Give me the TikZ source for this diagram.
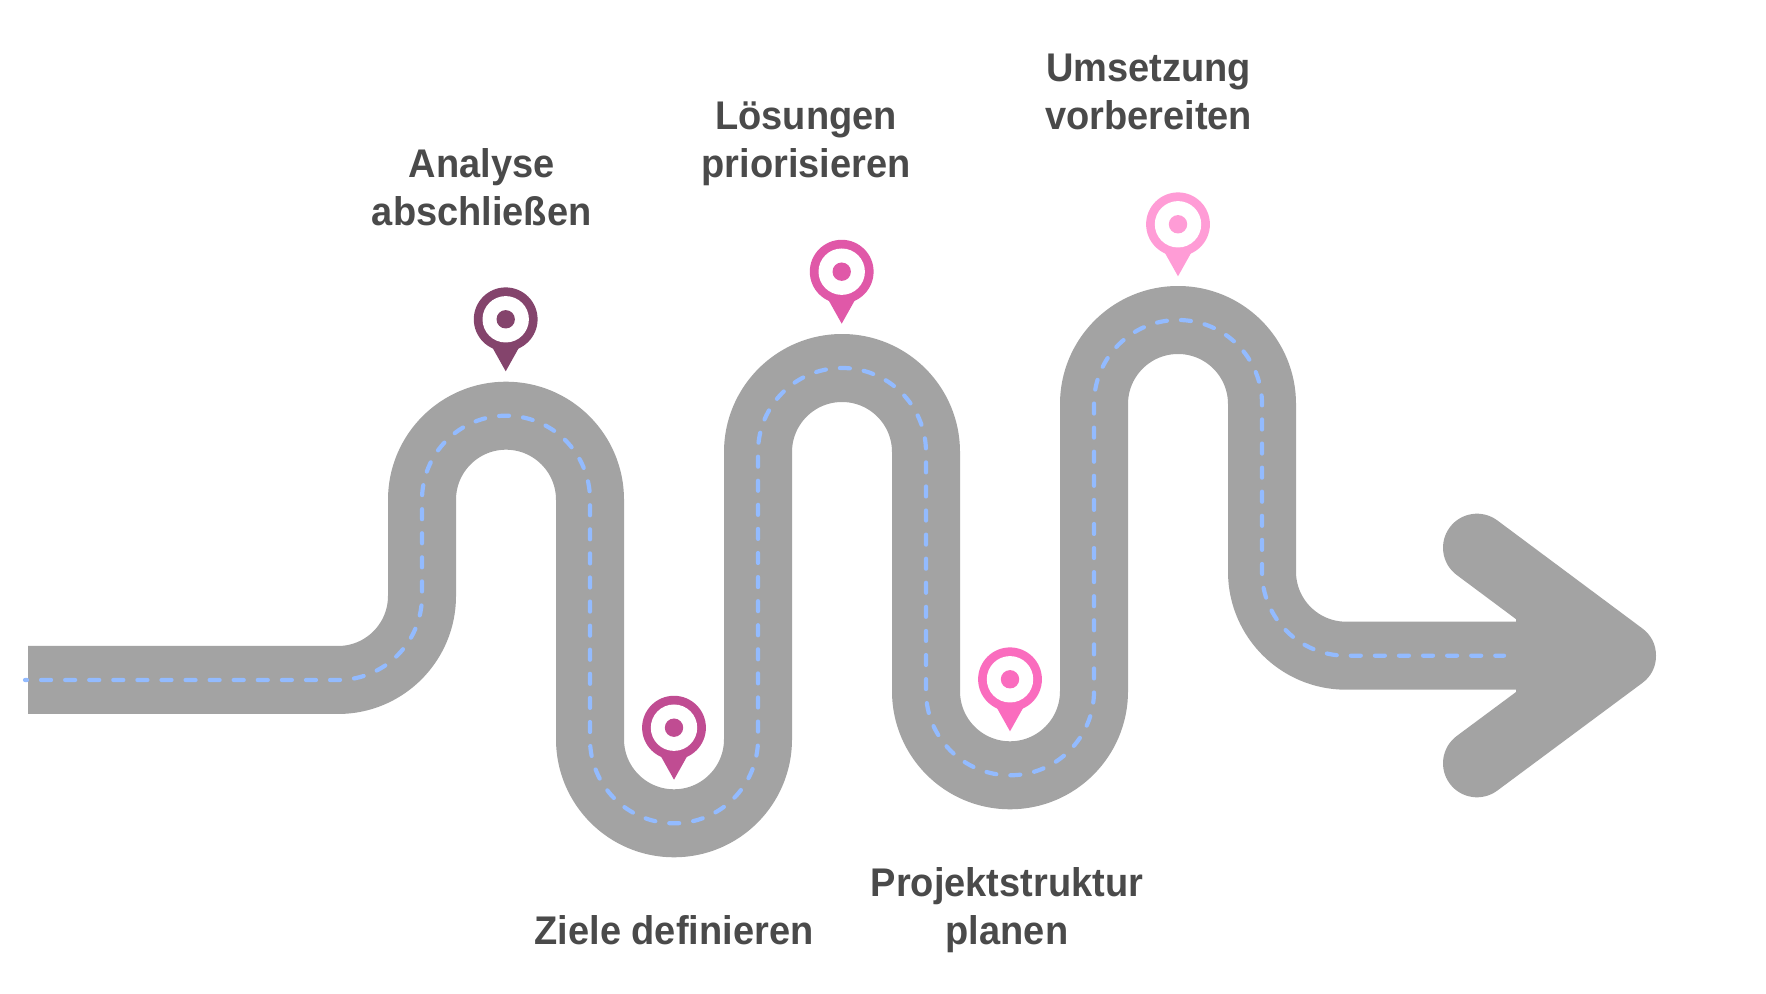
\documentclass[tikz,border=0pt]{standalone}
\usepackage{fontspec}
\setmainfont[FakeStretch=0.95]{Liberation Sans}
\definecolor{road}{HTML}{A3A3A3}
\definecolor{lane}{HTML}{93BBFF}
\definecolor{ink}{HTML}{4A4A4A}
\definecolor{pinA}{HTML}{84446C}
\definecolor{pinB}{HTML}{C04C92}
\definecolor{pinC}{HTML}{E058A8}
\definecolor{pinD}{HTML}{FA6CBE}
\definecolor{pinE}{HTML}{FF9CD6}
\newcommand{\roadpath}[2]{(#1,313) -- (338,313) arc[start angle=-90,end angle=0,radius=84pt]
  -- (422,493.3) arc[start angle=180,end angle=0,radius=84pt]
  -- (590,253.7) arc[start angle=180,end angle=360,radius=84pt]
  -- (758,541) arc[start angle=180,end angle=0,radius=84pt]
  -- (926,301.7) arc[start angle=180,end angle=360,radius=84pt]
  -- (1094,589) arc[start angle=180,end angle=0,radius=84pt]
  -- (1262,421.3) arc[start angle=180,end angle=270,radius=84pt]
  -- (#2,337.3)}
\tikzset{
  x=1pt,y=1pt,
  roadline/.style={draw=road,line width=68pt,line cap=butt,line join=round},
  arrowhead/.style={draw=road,line width=68pt,line cap=round,line join=round},
  laneline/.style={draw=lane,line width=4.2pt,line cap=round,dash pattern=on 10pt off 14.08pt,dash phase=8pt},
  lbl/.style={text=ink,font=\fontsize{40}{48}\selectfont\bfseries,align=center,anchor=base,inner sep=0pt},
  pics/pin/.style={code={
    \fill[#1] (-14,-27) -- (0,-52) -- (14,-27) -- cycle;
    \fill[#1] (0,0) circle[radius=31.9pt];
    \fill[white] (0,0) circle[radius=23.2pt];
    \fill[#1] (0,0) circle[radius=9.2pt];
  }}
}
\begin{document}
\begin{tikzpicture}
\useasboundingbox (0,0) rectangle (1766,993);
\fill[white] (0,0) rectangle (1766,993);
\draw[roadline] \roadpath{28}{1516};
\fill[road] (1516,375) -- (1622,337.3) -- (1516,299.6) -- cycle;
\draw[arrowhead] (1477,445.3) -- (1622,337.3) -- (1477,229.7);
\draw[laneline] \roadpath{25}{1504};
\pic at (505.7,673.7) {pin=pinA};
\pic at (674,265.3) {pin=pinB};
\pic at (841.7,721.3) {pin=pinC};
\pic at (1010,313.7) {pin=pinD};
\pic at (1178,768.7) {pin=pinE};
\node[lbl] (analyse) at (481.7,767.7) {Analyse\\abschließen};
\node[lbl] (ziele) at (674,48.2) {Ziele definieren};
\node[lbl] (loesungen) at (806,815.5) {Lösungen\\priorisieren};
\node[lbl] (projekt) at (1007,48.2) {Projektstruktur\\planen};
\node[lbl] (umsetzung) at (1148.7,863.7) {Umsetzung\\vorbereiten};
\end{tikzpicture}
\end{document}
